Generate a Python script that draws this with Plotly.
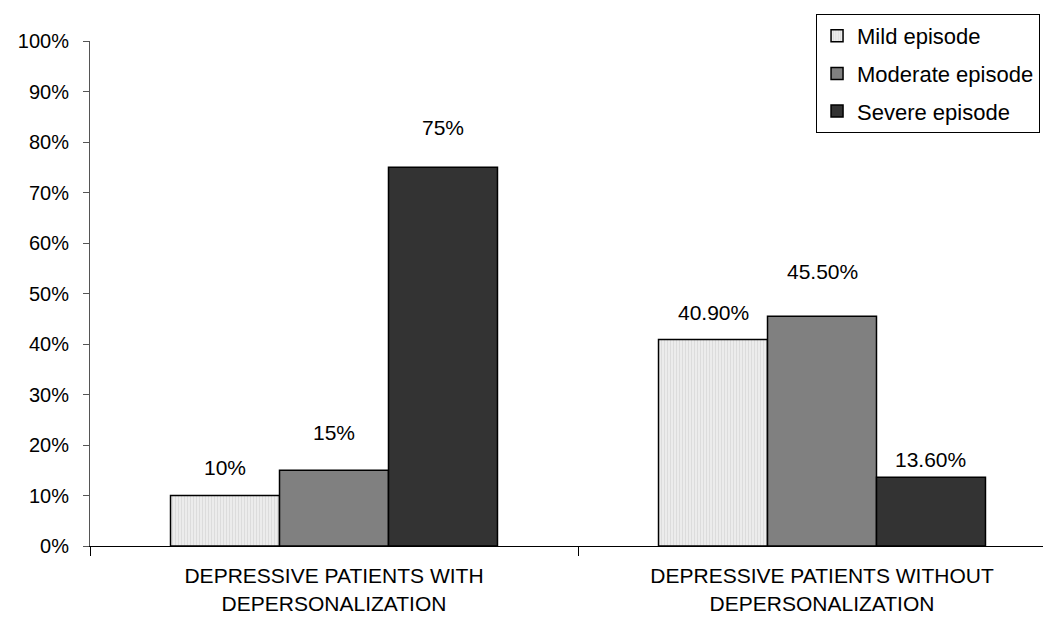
import plotly.graph_objects as go

categories = ["DEPRESSIVE PATIENTS WITH<br>DEPERSONALIZATION",
              "DEPRESSIVE PATIENTS WITHOUT<br>DEPERSONALIZATION"]
series_names = ["Mild episode", "Moderate episode", "Severe episode"]
mild = [10, 40.9]
moderate = [15, 45.5]
severe = [75, 13.6]
labels = [["10%", "40.90%"], ["15%", "45.50%"], ["75%", "13.60%"]]
label_shift = [[28, 27], [38, 45], [40, 18]]
y_ticks = list(range(0, 101, 10))
y_ticktext = [f"{v}%" for v in y_ticks]

colors = ["#e6e6e6", "#808080", "#333333"]
values = [mild, moderate, severe]

FONT = "Liberation Sans, Arial, sans-serif"
fig = go.Figure()
for i, (name, vals) in enumerate(zip(series_names, values)):
    marker = dict(color=colors[i], line=dict(color="black", width=1.5))
    if i == 0:
        marker["pattern"] = dict(shape="|", fgcolor="#c8c8c8", bgcolor="#ececec",
                                 size=3, solidity=0.3)
    fig.add_trace(go.Bar(x=categories, y=vals, name=name, marker=marker,
                         legendgroup=name))

bargap = 0.33
w = (1 - bargap) / 3
for i in range(3):
    for j in range(2):
        fig.add_annotation(x=j + (i - 1) * w, y=values[i][j], text=labels[i][j],
                           showarrow=False, yshift=label_shift[i][j],
                           font=dict(size=21, color="black", family=FONT))

fig.update_layout(
    width=1043, height=611,
    paper_bgcolor="white", plot_bgcolor="white",
    margin=dict(l=82, r=0, t=33, b=73),
    barmode="group", bargap=bargap, bargroupgap=0,
    font=dict(family=FONT, size=20, color="black"),
    showlegend=True,
    legend=dict(x=0.9886, y=1.0535, xanchor="right", yanchor="top",
                bordercolor="black", borderwidth=1, bgcolor="white",
                font=dict(size=22), tracegroupgap=6, itemwidth=30),
    xaxis=dict(type="category", categoryorder="array", categoryarray=categories,
               range=[-0.5, -0.5 + 961 / 488], showline=True, linecolor="black",
               linewidth=1, ticks="outside", ticklen=9, tickcolor="black",
               tickson="boundaries", showgrid=False, zeroline=False,
               automargin=False, ticklabelstandoff=11, tickfont=dict(size=21)),
    yaxis=dict(range=[0, 100], tickvals=y_ticks, ticktext=y_ticktext,
               showline=True, linecolor="#555555", linewidth=1, ticks="outside",
               ticklen=6, tickcolor="#555555", showgrid=False, zeroline=False,
               automargin=False, ticklabelstandoff=10, tickfont=dict(size=20)),
)
fig.write_html("out.html")
